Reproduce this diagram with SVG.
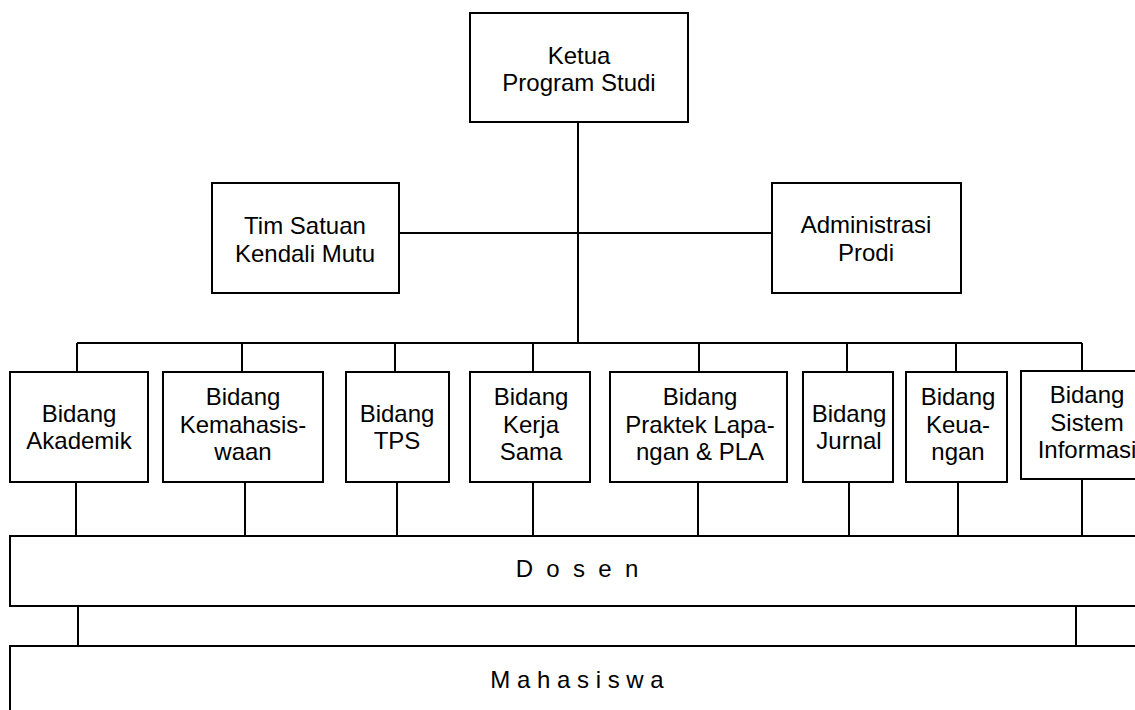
<svg xmlns="http://www.w3.org/2000/svg" width="1135" height="710" viewBox="0 0 1135 710">
<style>
.box{fill:#fff;stroke:#000;stroke-width:2}
.t{font-family:"Liberation Sans",Arial,sans-serif;font-size:24px;fill:#000;text-anchor:middle}
.pre{white-space:pre}
.c{stroke:#000;stroke-width:2;fill:none}
</style>
<rect width="1135" height="710" fill="#fff"/>
<g id="connectors">
<path class="c" d="M578 122V343M398 233H772M77 343H1082M77 343V372M242 343V372M395 343V372M533 343V372M699 343V372M847 343V372M956 343V372M1082 343V371"/>
<path class="c" d="M76 482V536M245 482V536M397 482V536M533 482V536M698 482V536M849 482V536M958 482V536M1082 479V536"/>
<path class="c" d="M78 606V646M1076 606V646"/>
</g>
<g id="ketua"><rect class="box" x="470" y="13" width="218" height="109"/><text class="t" x="579" y="64">Ketua</text><text class="t" x="579" y="91">Program Studi</text></g>
<g id="tim"><rect class="box" x="212" y="183" width="187" height="110"/><text class="t" x="305" y="234">Tim Satuan</text><text class="t" x="305" y="262">Kendali Mutu</text></g>
<g id="admin"><rect class="box" x="772" y="183" width="189" height="110"/><text class="t" x="866" y="233">Administrasi</text><text class="t" x="866" y="261">Prodi</text></g>
<g id="akademik"><rect class="box" x="10" y="372" width="138" height="110"/><text class="t" x="79" y="422">Bidang</text><text class="t" x="79" y="449">Akademik</text></g>
<g id="kemahasiswaan"><rect class="box" x="163" y="372" width="160" height="110"/><text class="t" x="243" y="405">Bidang</text><text class="t" x="243" y="433">Kemahasis-</text><text class="t" x="243" y="460">waan</text></g>
<g id="tps"><rect class="box" x="346" y="372" width="103" height="110"/><text class="t" x="397" y="422">Bidang</text><text class="t" x="397" y="449">TPS</text></g>
<g id="kerjasama"><rect class="box" x="470" y="372" width="120" height="110"/><text class="t" x="531" y="405">Bidang</text><text class="t" x="531" y="433">Kerja</text><text class="t" x="531" y="460">Sama</text></g>
<g id="praktek"><rect class="box" x="610" y="372" width="177" height="110"/><text class="t" x="700" y="405">Bidang</text><text class="t" x="700" y="433">Praktek Lapa-</text><text class="t" x="700" y="460">ngan &amp; PLA</text></g>
<g id="jurnal"><rect class="box" x="803" y="372" width="90" height="110"/><text class="t" x="849" y="422">Bidang</text><text class="t" x="849" y="449">Jurnal</text></g>
<g id="keuangan"><rect class="box" x="906" y="372" width="101" height="110"/><text class="t" x="958" y="405">Bidang</text><text class="t" x="958" y="433">Keua-</text><text class="t" x="958" y="460">ngan</text></g>
<g id="sistem"><rect class="box" x="1021" y="371" width="134" height="108"/><text class="t" x="1087" y="403">Bidang</text><text class="t" x="1087" y="431">Sistem</text><text class="t" x="1087" y="458">Informasi</text></g>
<g id="dosen"><rect class="box" x="10" y="536" width="1134" height="70"/><text class="t pre" xml:space="preserve" x="577" y="577">D  o  s  e  n</text></g>
<g id="mahasiswa"><rect class="box" x="10" y="646" width="1134" height="80"/><text class="t" x="577" y="688">M a h a s i s w a</text></g>
</svg>
